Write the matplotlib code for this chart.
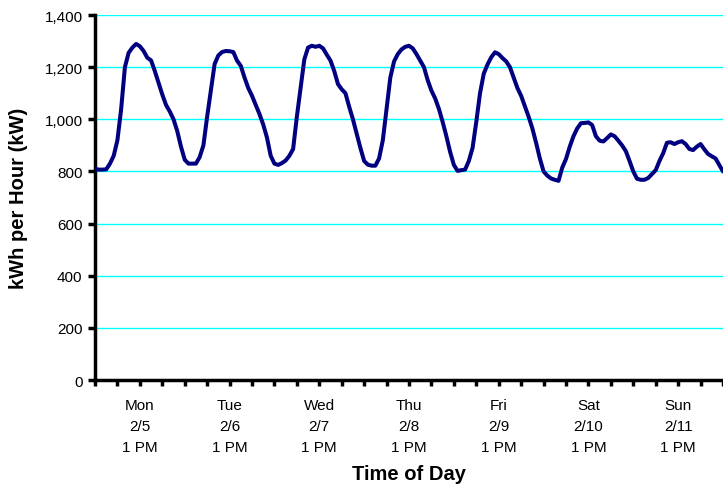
import numpy as np
import matplotlib.pyplot as plt
from matplotlib.ticker import FixedLocator, MultipleLocator

plt.rcParams['font.family'] = ['Liberation Sans', 'DejaVu Sans']

# hourly load, Mon 2/5 1 AM through Sun 2/11
load_kw = [
    810, 807, 807, 808, 830, 860, 920, 1040, 1200, 1255, 1275, 1289,
    1280, 1262, 1236, 1226, 1185, 1140, 1095, 1055, 1030, 1000, 955, 895,
    845, 830, 830, 830, 855, 900, 1010, 1110, 1212, 1245, 1258, 1262,
    1261, 1258, 1225, 1205, 1160, 1120, 1090, 1055, 1020, 980, 930, 860,
    830, 825, 832, 842, 860, 886, 1010, 1120, 1230, 1275, 1282, 1278,
    1282, 1272, 1248, 1225, 1185, 1135, 1115, 1100, 1048, 1000, 945, 890,
    840, 826, 822, 822, 850, 920, 1040, 1160, 1222, 1250, 1268, 1278,
    1282, 1272, 1250, 1225, 1200, 1150, 1110, 1080, 1040, 990, 935, 875,
    825, 802, 805, 807, 840, 890, 990, 1100, 1175, 1210, 1238, 1257,
    1250, 1235, 1222, 1200, 1160, 1120, 1090, 1050, 1010, 965, 910, 850,
    800, 784, 773, 768, 764, 815, 848, 895, 935, 965, 985, 986,
    988, 978, 935, 918, 915, 928, 942, 935, 918, 900, 878, 840,
    800, 772, 768, 768, 775, 790, 805, 840, 870, 910, 912, 905,
    912, 916, 905, 886, 882, 895, 905, 885, 867, 858, 850, 825,
    800,
]
hours = np.arange(len(load_kw))

day_labels = ["Mon\n2/5\n1 PM", "Tue\n2/6\n1 PM", "Wed\n2/7\n1 PM", "Thu\n2/8\n1 PM",
              "Fri\n2/9\n1 PM", "Sat\n2/10\n1 PM", "Sun\n2/11\n1 PM"]
label_hours = [12 + 24 * i for i in range(len(day_labels))]

fig = plt.figure(figsize=(7.23, 4.85), dpi=100)
ax = fig.add_axes([0.1314, 0.2144, 0.8686, 0.7526])

ax.plot(hours, load_kw, color='#000080', linewidth=2.9, solid_capstyle='round',
        solid_joinstyle='round', zorder=3)

ax.set_xlim(0, 168)
ax.set_ylim(0, 1400)
ax.yaxis.set_major_locator(MultipleLocator(200))
ax.yaxis.set_major_formatter(plt.FuncFormatter(lambda v, p: f"{int(v):,}"))
ax.grid(axis='y', color='#00FFFF', linewidth=1.0, zorder=1)

ax.xaxis.set_major_locator(FixedLocator(label_hours))
ax.xaxis.set_minor_locator(MultipleLocator(6))
ax.set_xticklabels(day_labels, fontsize=11, linespacing=1.65)

for s in ['top', 'right']:
    ax.spines[s].set_visible(False)
for s in ['left', 'bottom']:
    ax.spines[s].set_linewidth(2.5)

ax.tick_params(axis='x', which='both', direction='out', length=4, width=2.5, pad=9)
ax.tick_params(axis='y', direction='out', length=5, width=2.5, labelsize=11, pad=4)

ax.set_xlabel("Time of Day", fontsize=14.5, fontweight='bold', labelpad=7)
ax.set_ylabel("kWh per Hour (kW)", fontsize=14.5, fontweight='bold', labelpad=12)

fig.savefig("out.png", dpi=100)
